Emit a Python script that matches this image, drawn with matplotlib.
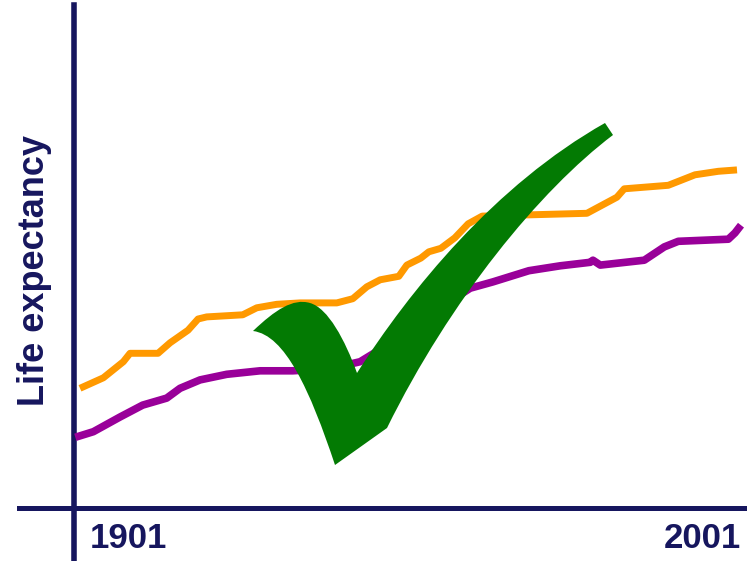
import matplotlib.pyplot as plt
from matplotlib.patches import PathPatch
from matplotlib.path import Path
from matplotlib.transforms import Affine2D

# life expectancy, women (orange) and men (purple)
years_w = [1901.9, 1905.4, 1908.4, 1909.4, 1913.6, 1915.4, 1918.1, 1919.6, 1920.9,
           1926.3, 1928.4, 1931.4, 1934.9, 1940.4, 1942.8, 1944.9, 1946.9, 1949.7,
           1950.9, 1953.0, 1954.2, 1956.0, 1958.1, 1960.1, 1962.2, 1977.9, 1982.4,
           1983.5, 1990.1, 1994.1, 1997.6, 2000.4]
life_w = [52.1, 53.6, 55.9, 57.1, 57.1, 58.6, 60.4, 62.0, 62.3,
          62.6, 63.6, 64.1, 64.3, 64.3, 64.9, 66.6, 67.6, 68.1,
          69.7, 70.7, 71.6, 72.1, 73.6, 75.6, 76.7, 77.1, 79.4,
          80.6, 81.1, 82.6, 83.1, 83.3]

years_m = [1901.2, 1903.9, 1907.9, 1911.3, 1914.9, 1916.9, 1919.9, 1923.9, 1928.9,
           1933.8, 1939.4, 1943.9, 1949.9, 1955.1, 1960.4, 1963.8, 1969.2, 1973.9,
           1978.4, 1978.8, 1979.9, 1986.5, 1989.5, 1991.6, 1999.1, 2000.1, 2001.0]
life_m = [45.1, 45.9, 48.0, 49.7, 50.7, 52.1, 53.3, 54.1, 54.6,
          54.6, 54.9, 55.9, 59.4, 63.1, 66.4, 67.3, 68.9, 69.6,
          70.1, 70.4, 69.7, 70.4, 72.3, 73.1, 73.4, 74.3, 75.4]

tick_labels = ["1901", "2001"]

navy = "#16165e"

fig = plt.figure(figsize=(7.47, 5.61), dpi=100)
ax = fig.add_axes([0, 0, 1, 1])
ax.set_xlim(1901 - 74 / 6.67, 1901 + (747 - 74) / 6.67)
ax.set_ylim(35 - (561 - 508) / 7, 35 + 508 / 7)
ax.axis("off")

# axes drawn by hand
ax.axvline(1901, ymax=1 - 5 / 561, color=navy, lw=4)
ax.axhline(35, xmin=19 / 747, color=navy, lw=3.6)

ax.plot(years_w, life_w, color="#ff9900", lw=5, solid_capstyle="butt", solid_joinstyle="round")
ax.plot(years_m, life_m, color="#990099", lw=5.5, solid_capstyle="butt", solid_joinstyle="round")

font = ["Liberation Sans", "DejaVu Sans"]
ax.text(1903.4, 29.3, tick_labels[0], fontsize=25, fontweight="bold", color=navy,
        family=font, ha="left", va="baseline")
ax.text(2001.0, 29.3, tick_labels[1], fontsize=25, fontweight="bold", color=navy,
        family=font, ha="right", va="baseline")
fig.text(35 / 747, 1 - 270.5 / 561, "Life expectancy", rotation=90, fontsize=26,
         fontweight="bold", color=navy, family=font, ha="center", va="center")

# green tick mark, bezier outline in picture pixels (origin top-left)
M, C, L = Path.MOVETO, Path.CURVE4, Path.LINETO
verts = [(253, 331),
         (275, 310), (293, 298), (310, 303),
         (328, 308), (345, 340), (357, 373),
         (410, 290), (495, 185), (605, 123),
         (613, 135),
         (540, 190), (450, 300), (387, 428),
         (335, 465),
         (310, 390), (285, 335), (253, 331)]
codes = [M, C, C, C, C, C, C, C, C, C, L, C, C, C, L, C, C, C]
px = Affine2D().scale(1 / 747, -1 / 561).translate(0, 1) + fig.transFigure
ax.add_patch(PathPatch(Path(verts, codes), facecolor="#037a03", edgecolor="none",
                       transform=px, zorder=5))

fig.savefig("out.png", dpi=100)
